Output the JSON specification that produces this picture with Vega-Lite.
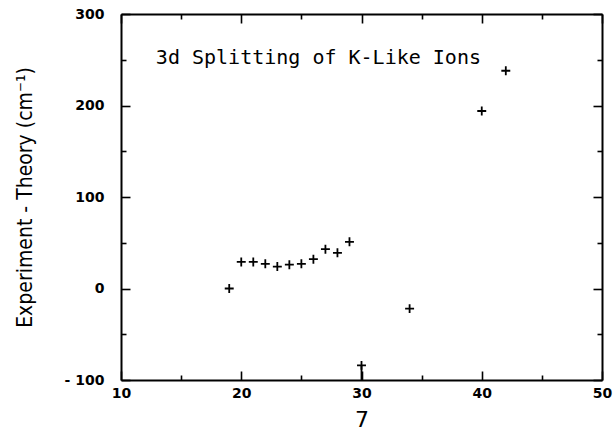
{
  "$schema": "https://vega.github.io/schema/vega-lite/v6.json",
  "autosize": {"type": "none"},
  "padding": {"left": 121, "top": 14, "right": 11, "bottom": 55},
  "width": 481,
  "height": 366,
  "background": "white",
  "config": {
    "view": {"stroke": null},
    "axis": {
      "domainColor": "black", "domainWidth": 2, "tickColor": "black", "tickWidth": 1.6,
      "grid": false, "labelFont": "DejaVu Sans", "labelFontWeight": "bold", "labelFontSize": 14,
      "labelColor": "black", "titleColor": "black", "titleFontWeight": "normal"
    }
  },
  "datasets": {
    "pts": [
      {"Z": 19, "diff": 0},
      {"Z": 20, "diff": 29},
      {"Z": 21, "diff": 29},
      {"Z": 22, "diff": 27},
      {"Z": 23, "diff": 24},
      {"Z": 24, "diff": 26},
      {"Z": 25, "diff": 27},
      {"Z": 26, "diff": 32},
      {"Z": 27, "diff": 43},
      {"Z": 28, "diff": 39},
      {"Z": 29, "diff": 51},
      {"Z": 30, "diff": -84},
      {"Z": 34, "diff": -22},
      {"Z": 40, "diff": 194},
      {"Z": 42, "diff": 238}
    ],
    "arrow": [{"Z": 30, "from": -84, "to": -100}],
    "label": [{"Z": 12.9, "diff": 245, "text": "3d Splitting of K-Like Ions"}]
  },
  "resolve": {"axis": {"x": "independent", "y": "independent"}},
  "layer": [
    {
      "data": {"name": "pts"},
      "mark": {"type": "point", "shape": "M-1,0L1,0M0,-1L0,1", "filled": false, "stroke": "black", "strokeWidth": 1.8, "size": 80, "opacity": 1},
      "encoding": {
        "x": {"field": "Z", "type": "quantitative", "scale": {"domain": [10, 50], "nice": false, "zero": false},
          "axis": {"orient": "bottom", "values": [10,15,20,25,30,35,40,45,50], "title": "7",
            "titleFont": "DejaVu Sans", "titleFontSize": 22, "titlePadding": 9,
            "tickSize": {"condition": {"test": "datum.value % 10 === 0", "value": -9}, "value": -5},
            "labelExpr": "datum.value % 10 === 0 ? datum.label : ''", "labelPadding": 15, "labelFlush": false}},
        "y": {"field": "diff", "type": "quantitative", "scale": {"domain": [-100, 300], "nice": false, "zero": false},
          "axis": {"orient": "left", "values": [-100,-50,0,50,100,150,200,250,300],
            "title": "Experiment - Theory (cm⁻¹)", "titleFont": "DejaVu Sans Condensed", "titleFontSize": 21, "titlePadding": 29,
            "tickSize": {"condition": {"test": "datum.value % 100 === 0", "value": -9}, "value": -5},
            "labelExpr": "datum.value % 100 === 0 ? replace(datum.label, '−', '- ') : ''", "labelPadding": 26, "labelFlush": false}}
      }
    },
    {
      "data": {"name": "label"},
      "mark": {"type": "text", "align": "left", "baseline": "alphabetic", "font": "DejaVu Sans Mono", "fontSize": 20, "color": "black"},
      "encoding": {
        "x": {"field": "Z", "type": "quantitative",
          "axis": {"orient": "top", "values": [10,15,20,25,30,35,40,45,50], "labels": false, "title": null,
            "tickSize": {"condition": {"test": "datum.value % 10 === 0", "value": -9}, "value": -5}}},
        "y": {"field": "diff", "type": "quantitative",
          "axis": {"orient": "right", "values": [-100,-50,0,50,100,150,200,250,300], "labels": false, "title": null,
            "tickSize": {"condition": {"test": "datum.value % 100 === 0", "value": -9}, "value": -5}}},
        "text": {"field": "text"}
      }
    },
    {
      "data": {"name": "arrow"},
      "mark": {"type": "rule", "color": "black", "strokeWidth": 1.8},
      "encoding": {
        "x": {"field": "Z", "type": "quantitative", "axis": null},
        "y": {"field": "from", "type": "quantitative", "axis": null},
        "y2": {"field": "to"}
      }
    }
  ]
}
